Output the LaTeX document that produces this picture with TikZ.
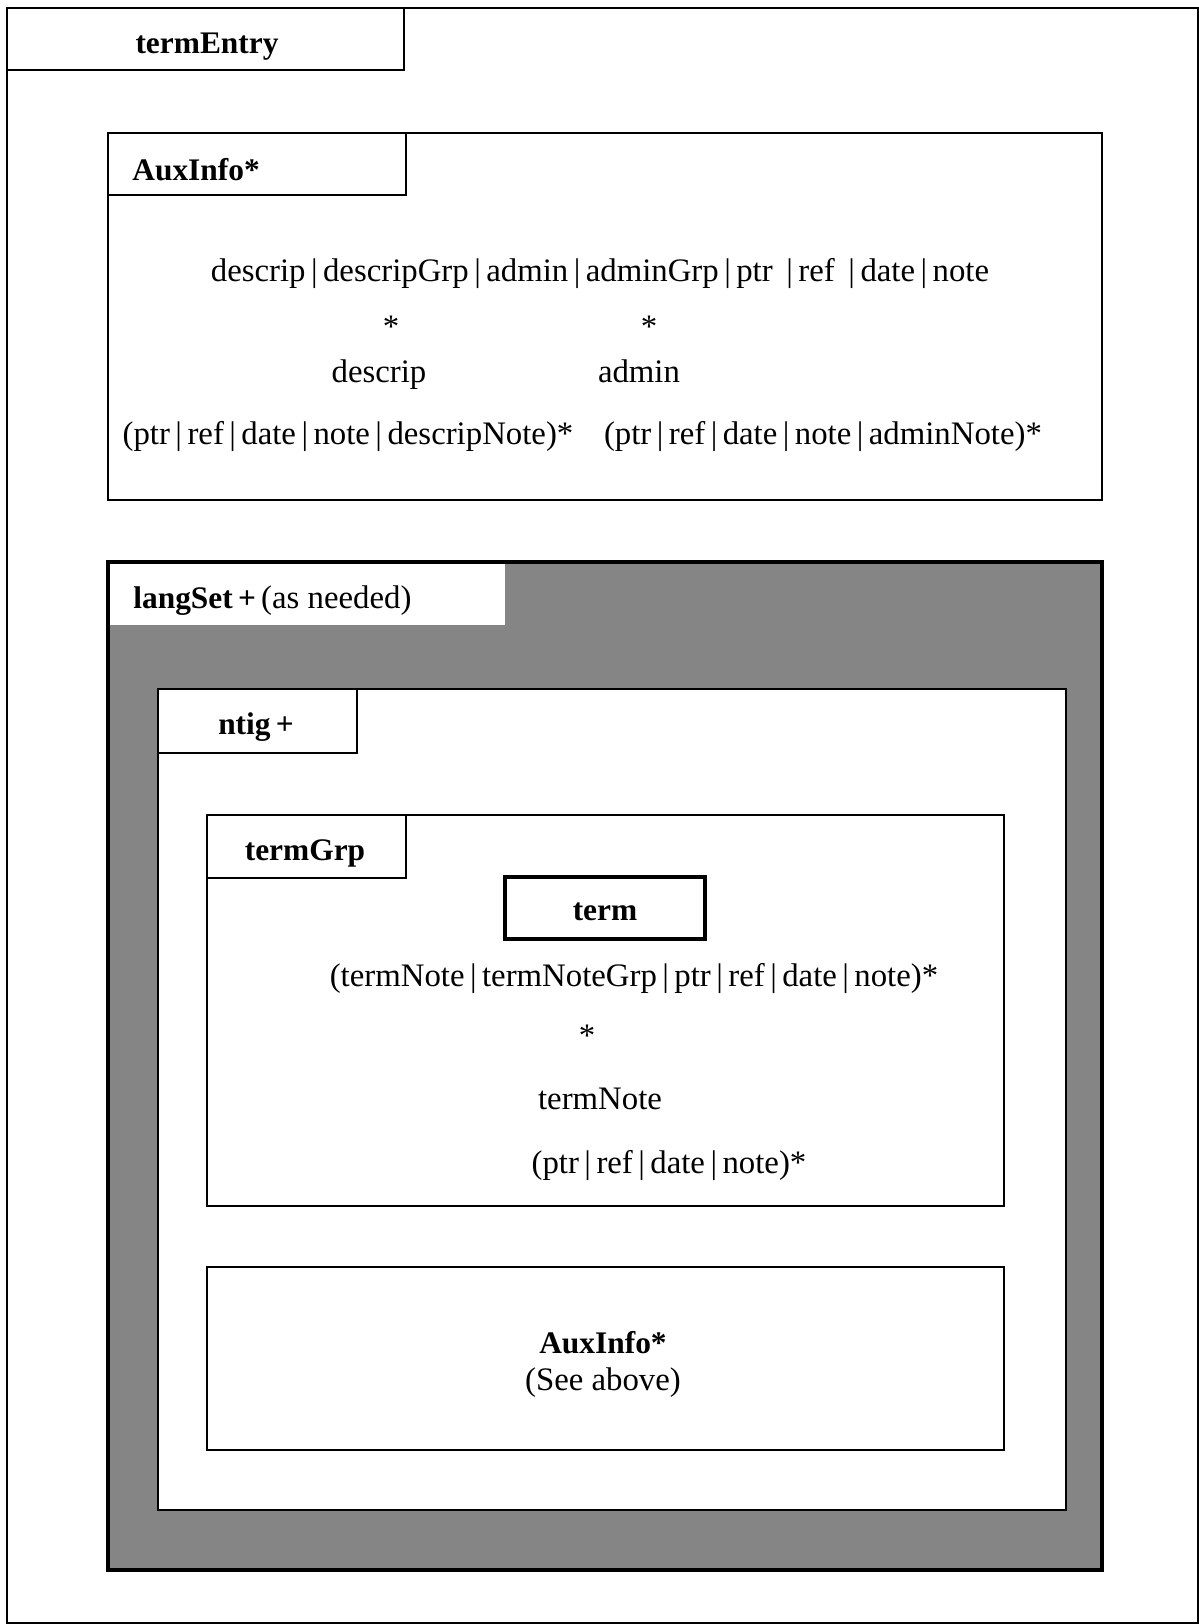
\documentclass[tikz,border=0pt]{standalone}
\usepackage{fontspec}
\setmainfont{Liberation Serif}
\begin{document}
\begin{tikzpicture}[x=0.5pt,y=-0.5pt,
  sz/.style 2 args={minimum width={#1*0.5pt},minimum height={#2*0.5pt}},
  box/.style={draw, line width=1.1pt, inner sep=0pt, outer sep=0pt, anchor=north west},
  lbl/.style={font=\fontsize{15.7}{18}\selectfont\bfseries, inner sep=0pt},
  txt/.style={font=\fontsize{16.4}{19}\selectfont, inner sep=0pt}]
\useasboundingbox (0,0) rectangle (1199,1624);
% outer frame
\node[box, line width=1pt, sz={1191}{1615}] (frame) at (7,8) {};
\node[box, sz={397}{62}] (entrytab) at (7,8) {};
\node[lbl] (entrylbl) at (207,47) {termEntry};
% first AuxInfo
\node[box, sz={994}{367}] (aux1) at (108,133) {};
\node[box, sz={298}{62}] (aux1tab) at (108,133) {};
\node[lbl, anchor=west] (aux1lbl) at (132,170) {AuxInfo*};
\node[txt] (row1) at (600,273) {descrip\,|\,descripGrp\,|\,admin\,|\,adminGrp\,|\,ptr \,|\,ref \,|\,date\,|\,note};
\node[txt] (star1) at (391,327) {*};
\node[txt] (star2) at (649,327) {*};
\node[txt, anchor=base] (descrip) at (379,382) {descrip};
\node[txt, anchor=base] (admin) at (639,382) {admin};
\node[txt] (dnote) at (348,436) {(ptr\,|\,ref\,|\,date\,|\,note\,|\,descripNote)*};
\node[txt] (anote) at (823,436) {(ptr\,|\,ref\,|\,date\,|\,note\,|\,adminNote)*};
% langSet
\node[box, draw=none, fill=black!48, sz={994}{1008}] (lang) at (108,562) {};
\node[box, draw=none, fill=white, sz={397}{63}] (langtab) at (108,562) {};
\draw[line width=1.8pt] (lang.north west) rectangle (lang.south east);
\node[lbl, anchor=west] (langlbl) at (133,601) {langSet\,+\,\normalfont\fontsize{16.4}{19}\selectfont(as needed)};
% ntig
\node[box, fill=white, sz={908}{821}] (ntig) at (158,689) {};
\node[box, sz={199}{64}] (ntigtab) at (158,689) {};
\node[lbl] (ntiglbl) at (256,727) {ntig\,+};
% termGrp
\node[box, sz={797}{391}] (tgrp) at (207,815) {};
\node[box, sz={199}{63}] (tgrptab) at (207,815) {};
\node[lbl] (tgrplbl) at (305,853) {termGrp};
\node[box, line width=1.6pt, sz={200}{62}] (term) at (505,877) {};
\node[lbl] (termlbl) at ([yshift=-4*0.5pt]term.center) {term};
\node[txt] (tnline) at (634,978) {(termNote\,|\,termNoteGrp\,|\,ptr\,|\,ref\,|\,date\,|\,note)*};
\node[txt] (star3) at (587,1036) {*};
\node[txt] (tnote) at (600,1099) {termNote};
\node[txt] (tnsub) at (669,1165) {(ptr\,|\,ref\,|\,date\,|\,note)*};
% second AuxInfo
\node[box, sz={797}{183}] (aux2) at (207,1267) {};
\node[lbl] (aux2lbl) at (603,1343) {AuxInfo*};
\node[txt] (aux2sub) at (603,1383) {(See above)};
\end{tikzpicture}
\end{document}
